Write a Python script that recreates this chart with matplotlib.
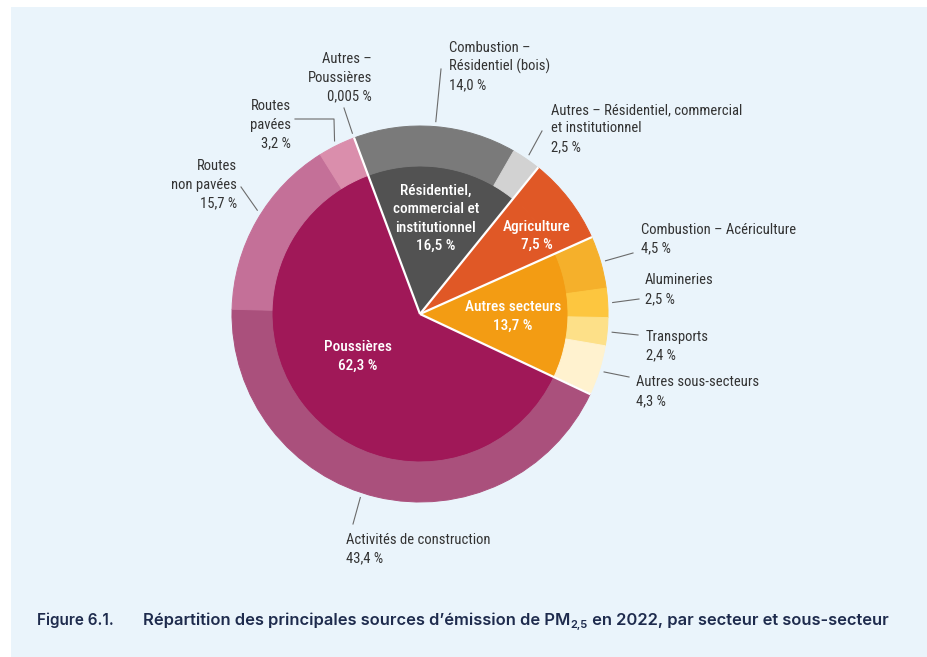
import matplotlib
matplotlib.use("Agg")
import matplotlib.pyplot as plt
from matplotlib import font_manager as fm
from matplotlib.font_manager import FontProperties
from matplotlib.patches import Rectangle
import numpy as np

# ---------------- data ----------------
sectors = ["Résidentiel,\ncommercial et\ninstitutionnel", "Agriculture",
           "Autres secteurs", "Poussières"]
sector_values = [16.5, 7.5, 13.7, 62.3]
sector_colors = ["#525252", "#e05826", "#f39c13", "#a01858"]

sub_sectors = ["Combustion –\nRésidentiel (bois)",
               "Autres – Résidentiel, commercial\net institutionnel",
               "Agriculture",
               "Combustion – Acériculture",
               "Alumineries",
               "Transports",
               "Autres sous-secteurs",
               "Activités de construction",
               "Routes\nnon pavées",
               "Routes\npavées",
               "Autres –\nPoussières"]
sub_values = [14.0, 2.5, 7.5, 4.5, 2.5, 2.4, 4.3, 43.4, 15.7, 3.2, 0.005]
sub_colors = ["#7a7a7a", "#d2d2d2", "#e05826", "#f5b02b", "#fdc63f",
              "#fde088", "#fff2cf", "#aa507c", "#c47098", "#da8eac", "#e8b4c8"]

caption_num = "Figure 6.1."
caption_a = "Répartition des principales sources d’émission de PM"
caption_sub = "2,5"
caption_b = " en 2022, par secteur et sous-secteur"


def fmt(v):
    s = f"{v:.3f}" if v < 0.1 else f"{v:.1f}"
    return s.replace(".", ",") + " %"


# ---------------- fonts ----------------
def norm_w(w):
    if isinstance(w, str):
        return fm.weight_dict.get(w, 400)
    return w


def is_cond(f):
    s = str(f.stretch)
    return ("Narrow" in f.name or "Condensed" in f.name or "Condensed" in f.fname
            or "Narrow" in f.fname or s in ("condensed", "semi-condensed",
                                               "extra-condensed", "ultra-condensed")
            or (isinstance(f.stretch, int) and f.stretch < 500))


def find_font(target_weight):
    prefs = ["Roboto Condensed", "Liberation Sans Narrow", "Open Sans Condensed",
             "Open Sans", "DejaVu Sans Condensed", "DejaVu Sans", "Noto Sans"]
    conds = [f for f in fm.fontManager.ttflist if is_cond(f) and f.style == "normal"]
    for p in prefs:
        c = [f for f in conds if f.name == p]
        if c:
            c.sort(key=lambda f: abs(norm_w(f.weight) - target_weight))
            return c[0].fname
    return None


reg_file = find_font(400)
bold_file = find_font(580)
if reg_file:
    label_fp = FontProperties(fname=reg_file, size=10.5)
else:
    label_fp = FontProperties(family="Roboto", size=9.5)
if bold_file:
    inner_fp = FontProperties(fname=bold_file, size=11)
else:
    inner_fp = FontProperties(family="Roboto", weight="medium", size=10)

# ---------------- layout ----------------
W, H = 927, 657
CX, CY = 420, 314
R_IN, R_OUT = 148, 188
START = 110.5
PITCH = 18.5
LABEL_COLOR = "#333333"
LEADER_COLOR = "#6b6b6b"

# per sub-sector label: (x, first baseline y, ha, leader end, position in wedge, elbow)
outer_layout = {
    0: (449, 52, "left", (441, 69), 0.5, None),
    1: (551, 114, "left", (542, 131), 0.5, None),
    3: (641, 233.5, "left", (633, 253), 0.5, None),
    4: (645, 284.5, "left", (639, 299), 0.5, None),
    5: (646, 340.5, "left", (638, 335), 0.5, None),
    6: (636, 386.5, "left", (629, 377), 0.5, None),
    7: (346, 544, "left", (353, 524), 0.53, None),
    8: (237, 170.5, "right", (241, 187), 0.55, None),
    9: (291, 110, "right", (295, 119), 0.5, (334, 119)),
    10: (372, 63, "right", (344, 108), 0.5, None),
}
inner_layout = {
    0: (436, 194.5),
    1: (537, 230.5),
    2: (513, 311),
    3: (358, 351),
}

fig = plt.figure(figsize=(W / 100, H / 100), dpi=100, facecolor="white")
ax = fig.add_axes([0, 0, 1, 1])
ax.axis("off")

ax.add_patch(Rectangle((11, 0), W - 11, H - 7, facecolor="#eaf4fb",
                       edgecolor="none", zorder=0))

center = (CX, H - CY)
inner_w, _ = ax.pie(sector_values, radius=R_IN, center=center, startangle=START,
                    counterclock=False, colors=sector_colors,
                    wedgeprops=dict(linewidth=0.7))
outer_w, _ = ax.pie(sub_values, radius=R_OUT, center=center, startangle=START,
                    counterclock=False, colors=sub_colors,
                    wedgeprops=dict(width=R_OUT - R_IN, linewidth=0.7))
for w in list(inner_w) + list(outer_w):
    w.set_edgecolor(w.get_facecolor())
    w.set_zorder(2)

# white separators between sectors (through both rings)
angles = set()
for w in inner_w:
    angles.add(round(w.theta1 % 360, 4))
    angles.add(round(w.theta2 % 360, 4))
for a in angles:
    r = np.radians(a)
    ax.plot([center[0], center[0] + (R_OUT + 0.5) * np.cos(r)],
            [center[1], center[1] + (R_OUT + 0.5) * np.sin(r)],
            color="white", lw=1.6, zorder=3, solid_capstyle="butt")

# outer labels and leaders
for i, (x, b1, ha, lend, frac, elbow) in outer_layout.items():
    w = outer_w[i]
    ang = np.radians(w.theta2 - frac * (w.theta2 - w.theta1))
    sx = center[0] + (R_OUT + 5) * np.cos(ang)
    sy = center[1] + (R_OUT + 5) * np.sin(ang)
    xs, ys = [sx], [sy]
    if elbow is not None:
        xs.append(elbow[0]); ys.append(H - elbow[1])
    xs.append(lend[0]); ys.append(H - lend[1])
    ax.plot(xs, ys, color=LEADER_COLOR, lw=0.8, zorder=3)
    lines = sub_sectors[i].split("\n") + [fmt(sub_values[i])]
    for k, line in enumerate(lines):
        ax.text(x, H - (b1 + k * PITCH), line, ha=ha, va="baseline",
                fontproperties=label_fp, color=LABEL_COLOR, zorder=4)

# inner labels
for i, (x, b1) in inner_layout.items():
    lines = sectors[i].split("\n") + [fmt(sector_values[i])]
    for k, line in enumerate(lines):
        ax.text(x, H - (b1 + k * PITCH), line, ha="center", va="baseline",
                fontproperties=inner_fp, color="white", zorder=4)

# caption
CAP_COLOR = "#1e2b4d"
cap_base = H - 625
fam = ["Inter", "DejaVu Sans"]
ax.text(37, cap_base, caption_num, ha="left", va="baseline", color=CAP_COLOR,
        family=fam, weight="semibold", size=11)
t1 = ax.text(143, cap_base, caption_a, ha="left", va="baseline", color=CAP_COLOR,
             family=fam, weight="semibold", size=11.9)
t2 = ax.annotate(caption_sub, xy=(1, cap_base - 3.5), xycoords=(t1, "data"),
                 ha="left", va="baseline", color=CAP_COLOR,
                 family=fam, weight="semibold", size=8)
ax.annotate(caption_b, xy=(1, cap_base), xycoords=(t2, "data"),
            ha="left", va="baseline", color=CAP_COLOR,
            family=fam, weight="semibold", size=11.9)

ax.set_xlim(0, W)
ax.set_ylim(0, H)

fig.savefig("out.png", dpi=100, facecolor="white")
